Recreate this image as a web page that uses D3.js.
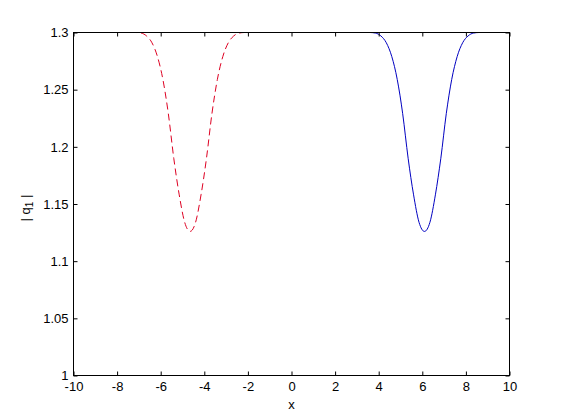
<!DOCTYPE html>
<meta charset="utf-8">
<style>
body { margin: 0; background: #fff; }
.axis text { font: 13px "Liberation Sans", Arial, sans-serif; fill: #000; }
.axis line { stroke: #000; }
.axis path { display: none; }
.line { fill: none; stroke-width: 1px; }
</style>
<svg width="561" height="420"></svg>
<script src="https://cdn.jsdelivr.net/npm/d3@7"></script>
<script>
// values
var xTicks = [-10, -8, -6, -4, -2, 0, 2, 4, 6, 8, 10];
var yTicks = [1, 1.05, 1.1, 1.15, 1.2, 1.25, 1.3];

// red dashed dip
var redX = [-7.4, -7.15, -6.9, -6.65, -6.4, -6.15, -5.9, -5.65, -5.4, -5.15, -4.9, -4.65,
            -4.4, -4.15, -3.9, -3.65, -3.4, -3.15, -2.9, -2.65, -2.4, -2.15, -1.9];
var redY = [1.300, 1.300, 1.2995, 1.297, 1.291, 1.279, 1.259, 1.229, 1.190, 1.158, 1.134, 1.126,
            1.134, 1.158, 1.190, 1.229, 1.259, 1.279, 1.291, 1.297, 1.2995, 1.300, 1.300];

// blue solid dip
var blueX = [3.35, 3.6, 3.85, 4.1, 4.35, 4.6, 4.85, 5.1, 5.35, 5.6, 5.85, 6.1,
             6.35, 6.6, 6.85, 7.1, 7.35, 7.6, 7.85, 8.1, 8.35, 8.6, 8.85];
var blueY = [1.300, 1.300, 1.2995, 1.297, 1.291, 1.279, 1.259, 1.229, 1.190, 1.158, 1.134, 1.126,
             1.134, 1.158, 1.190, 1.229, 1.259, 1.279, 1.291, 1.297, 1.2995, 1.300, 1.300];

var svg = d3.select("svg"),
    margin = {top: 32, right: 52, bottom: 45, left: 73},
    width = +svg.attr("width") - margin.left - margin.right,
    height = +svg.attr("height") - margin.top - margin.bottom,
    g = svg.append("g").attr("transform", "translate(" + (margin.left + 0.5) + "," + (margin.top + 0.5) + ")");

var x = d3.scaleLinear().domain([-10, 10]).range([0, width]),
    y = d3.scaleLinear().domain([1, 1.3]).range([height, 0]);

var line = d3.line()
    .curve(d3.curveMonotoneX)
    .x(function(d) { return x(d[0]); })
    .y(function(d) { return y(d[1]); });

g.append("clipPath").attr("id", "clip")
  .append("rect").attr("width", width).attr("height", height);

g.append("path")
    .datum(d3.zip(redX, redY))
    .attr("class", "line")
    .attr("clip-path", "url(#clip)")
    .style("stroke", "#dd0022")
    .style("stroke-dasharray", "7,4")
    .attr("d", line);

g.append("path")
    .datum(d3.zip(blueX, blueY))
    .attr("class", "line")
    .attr("clip-path", "url(#clip)")
    .style("stroke", "#0000c0")
    .attr("d", line);

//axes with inward ticks on all sides
g.append("g")
    .attr("class", "axis")
    .attr("transform", "translate(0," + height + ")")
    .call(d3.axisBottom(x).tickValues(xTicks).tickSize(-4).tickSizeOuter(0).tickPadding(6)
      .tickFormat(function(d) { return String(d); }));

g.append("g")
    .attr("class", "axis")
    .call(d3.axisLeft(y).tickValues(yTicks).tickSize(-4).tickSizeOuter(0).tickPadding(5)
      .tickFormat(function(d) { return String(+d.toFixed(2)); }));

g.append("g")
    .attr("class", "axis")
    .call(d3.axisTop(x).tickValues(xTicks).tickSize(-4).tickSizeOuter(0).tickFormat(""));

g.append("g")
    .attr("class", "axis")
    .attr("transform", "translate(" + width + ",0)")
    .call(d3.axisRight(y).tickValues(yTicks).tickSize(-4).tickSizeOuter(0).tickFormat(""));

g.append("rect")
    .attr("width", width)
    .attr("height", height)
    .attr("fill", "none")
    .attr("stroke", "#000");

//axis titles
g.append("text")
    .attr("x", width / 2)
    .attr("y", height + 33)
    .attr("text-anchor", "middle")
    .style("font", "13px 'Liberation Sans', Arial, sans-serif")
    .text("x");

var yl = g.append("text")
    .attr("transform", "translate(-44," + (height / 2 + 4) + ") rotate(-90)")
    .attr("text-anchor", "middle")
    .style("font", "13px 'Liberation Sans', Arial, sans-serif");
yl.append("tspan").text("| q");
yl.append("tspan").attr("dy", 3).style("font-size", "10px").text("1");
yl.append("tspan").attr("dy", -3).text(" |");
</script>
